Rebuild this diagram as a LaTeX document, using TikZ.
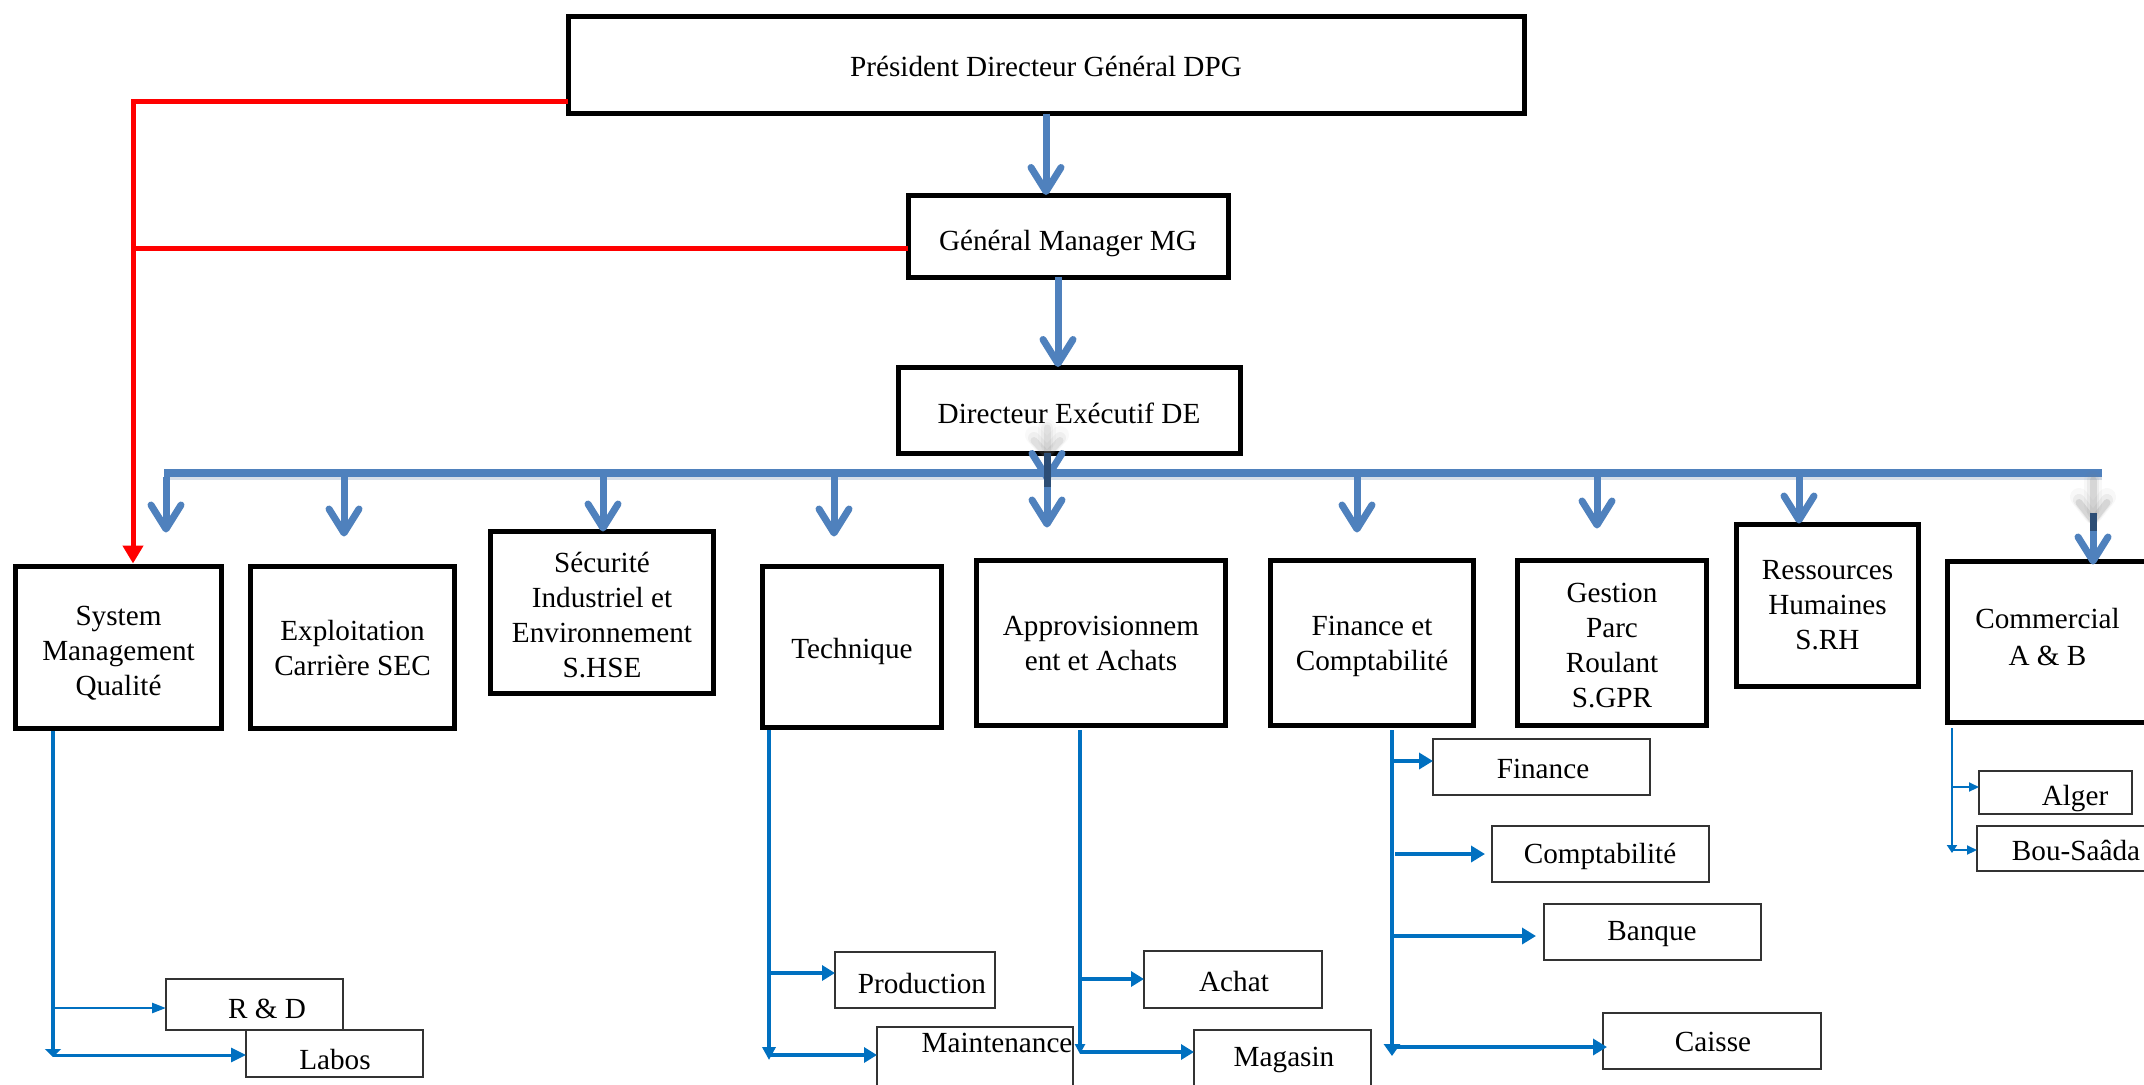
\documentclass[tikz,border=0pt]{standalone}
\usepackage{fontspec}
\setmainfont{Liberation Serif}
\usetikzlibrary{arrows.meta}
\definecolor{barblue}{HTML}{4F81BD}
\definecolor{subblue}{HTML}{0070C0}
\definecolor{navyblue}{HTML}{2C4D75}

% unit box (thick frame) with its label, label nudged down by #6
\newcommand{\orgbox}[7]{%
  \node[mainbox,minimum width=#4pt,minimum height=#5pt] (#1) at (#2,#3) {};
  \node[align=center,inner sep=0pt] (#1-t) at ([yshift=-#6pt]#1.center) {#7};}
% sub-unit box (thin frame) with its label placed separately
\newcommand{\orgsub}[8]{%
  \node[subbox,minimum width=#4pt,minimum height=#5pt] (#1) at (#2,#3) {};
  \node (#1-t) at (#6,#7) {#8};}

\begin{document}
\begin{tikzpicture}[x=0.5pt,y=-0.5pt,
  font=\fontsize{14.6}{17.5}\selectfont,
  mainbox/.style={draw,line width=2.5pt,inner sep=0pt,outer sep=0pt},
  subbox/.style={draw=black!80,line width=0.8pt,inner sep=0pt,outer sep=0pt},
  bigarrow/.style={draw=barblue,line width=3.5pt,-{Straight Barb[length=12pt,width=15pt,round]}},
  haze/.style={draw=gray,line cap=round},
  redline/.style={draw=red,line width=2.5pt},
  trunk/.style={draw=subblue,line width=2pt},
  branch/.style={draw=subblue,line width=2.2pt,-{Triangle[length=6.5pt,width=7.5pt]}},
]
\useasboundingbox (0,0) rectangle (2144,1084);

% ---- top of the hierarchy
\orgbox{pdg}{1046}{65}{478}{48.5}{0.75}{Président Directeur Général DPG}
\orgbox{mg}{1068}{236}{160}{41}{3.5}{Général Manager MG}
\orgbox{de}{1069}{410}{171}{43}{1.5}{Directeur Exécutif DE}

% ---- departments
\orgbox{smq}{118.5}{647.5}{103}{81}{2.75}{System\\Management\\Qualité}
\orgbox{ecs}{352.5}{647.5}{102}{81}{0}{Exploitation\\Carrière SEC}
\orgbox{sie}{602}{612.5}{111.5}{81}{1.25}{Sécurité\\Industriel et\\Environnement\\S.HSE}
\orgbox{tech}{852}{647}{89.5}{80.5}{2}{Technique}
\orgbox{appro}{1101}{643}{124.5}{82.5}{0}{Approvisionnem\\ent et Achats}
\orgbox{fin}{1372}{643}{101.5}{82.5}{1.75}{Finance et\\Comptabilité}
\orgbox{gpr}{1612}{643}{94.5}{82.5}{1.5}{Gestion\\Parc\\Roulant\\S.GPR}
\orgbox{rh}{1827.5}{605.5}{91}{81}{0}{Ressources\\Humaines\\S.RH}
\orgbox{com}{2047.5}{642}{100}{80.5}{-2.5}{Commercial\\[1pt]A \& B}

% ---- sub-units
\orgsub{rd}{254.5}{1004.5}{88.5}{25.5}{267}{1009}{R \& D}
\orgsub{labos}{334.5}{1053.5}{88.5}{23.5}{335}{1059}{Labos}
\orgsub{prod}{915}{980}{80}{28}{922}{983}{Production}
\orgsub{maint}{975}{1061}{98}{34}{997}{1043}{Maintenance}
\orgsub{achat}{1233}{979.5}{89}{28.5}{1234}{981}{Achat}
\orgsub{mag}{1282.5}{1062.5}{88.5}{32.5}{1284}{1060}{Magasin}
\orgsub{finance}{1541.5}{767}{108.5}{28}{1543}{769}{Finance}
\orgsub{compta}{1600.5}{854}{108.5}{28}{1600}{856}{Comptabilité}
\orgsub{banque}{1652.5}{932}{108.5}{28}{1652}{934}{Banque}
\orgsub{caisse}{1712}{1041}{109}{28}{1713}{1042}{Caisse}
\orgsub{alger}{2055.5}{792.5}{76.5}{21.5}{2075}{799}{Alger}
\orgsub{bou}{2073.5}{848.5}{96.5}{22.5}{2076}{850}{Bou-Saâda}

% ---- red staff links to quality management
\coordinate (rv) at (133,101);
\coordinate (rm) at (133,248);
\draw[redline,-{Triangle[length=9pt,width=10pt]},shorten >=1.5pt] (pdg.west |- rv) -- (rv) -- (rv |- smq.north);
\draw[redline] (mg.west |- rm) -- (rm);

% ---- line of command
\draw[bigarrow] (pdg.south) -- (pdg.south |- mg.north);
\coordinate (mgx) at (1058,0);
\draw[bigarrow] (mg.south -| mgx) -- (de.north -| mgx);

% distribution bar
\coordinate (barL) at (164,473);
\coordinate (barR) at (2102,473);
\draw[barblue!60!gray,line width=4pt,opacity=.25] ([yshift=-1.5pt]barL) -- ([yshift=-1.5pt]barR);
\draw[barblue,line width=4pt] (barL) -- (barR);

\foreach \n/\x/\b/\g in {1/166/smq/17,2/344/ecs/15,3/603/sie/0,4/834/tech/15,6/1357/fin/14,7/1597/gpr/16,8/1799/rh/0.5} {
  \coordinate (tap\n) at (\x,477);
  \draw[bigarrow,shorten >=\g pt] (tap\n) -- (tap\n |- \b.north);
}

% arrow from the executive director through the bar
\coordinate (tap5) at (1047,477);
\coordinate (dh1) at (1047,428);
\coordinate (dh2) at (1047,458);
\foreach \w/\o in {9/0.05,6/0.08,3.5/0.14}
  \draw[haze,line width=\w pt,opacity=\o,-{Straight Barb[length=7pt,width=13pt,round]}] (dh1) -- (dh2);
\draw[bigarrow] (de.south -| tap5) -- ([yshift=-2pt]tap5);
\draw[bigarrow,shorten >=16.5pt] (de.south -| tap5) -- (tap5 |- appro.north);
\draw[navyblue,line width=3.5pt] (de.south -| tap5) -- ++(0,34);

% arrow to the commercial department
\coordinate (tap9) at (2093,477);
\coordinate (ch1) at (2093,480);
\coordinate (ch2) at (2093,524);
\coordinate (cs) at (2093,513);
\foreach \w/\o in {9/0.06,6/0.1,3.5/0.2}
  \draw[haze,line width=\w pt,opacity=\o,-{Straight Barb[length=9pt,width=14pt,round]}] (ch1) -- (ch2);
\draw[bigarrow,shorten >=-1.5pt] (cs) -- (tap9 |- com.north);
\draw[navyblue,line width=3.5pt] (cs) -- ++(0,18);

% ---- System Management Qualité branch
\coordinate (q0) at (53,731);
\coordinate (q9) at (53,1057);
\coordinate (q1) at (53,1008);
\coordinate (q2) at (53,1055);
\draw[trunk,line width=2.2pt,-{Triangle[length=4pt,width=8pt]}] (q0) -- (q9);
\draw[branch,line width=1.3pt,-{Triangle[length=7pt,width=5pt]}] (q1) -- (q1 -| rd.west);
\draw[branch,line width=1.5pt,-{Triangle[length=7.5pt,width=7pt]}] (q2) -- (q2 -| labos.west);

% ---- Technique branch
\coordinate (t0) at (769,730);
\coordinate (t9) at (769,1060);
\coordinate (t1) at (769,973);
\coordinate (t2) at (769,1055);
\draw[trunk,-{Triangle[length=6.5pt,width=6.5pt]}] (t0) -- (t9);
\draw[branch] (t1) -- (t1 -| prod.west);
\draw[branch] (t2) -- (t2 -| maint.west);

% ---- Approvisionnement branch
\coordinate (p0) at (1080,730);
\coordinate (p9) at (1080,1054);
\coordinate (p1) at (1080,979);
\coordinate (p2) at (1080,1052);
\draw[trunk,line width=1.8pt,-{Triangle[length=5pt,width=5pt]}] (p0) -- (p9);
\draw[branch] (p1) -- (p1 -| achat.west);
\draw[branch] (p2) -- (p2 -| mag.west);

% ---- Finance et Comptabilité branch
\coordinate (f0) at (1392,730);
\coordinate (f9) at (1392,1056);
\coordinate (f1) at (1392,761);
\coordinate (f2) at (1395,854);
\coordinate (f3) at (1392,936);
\coordinate (f4) at (1395,1047);
\draw[trunk,line width=1.8pt,-{Triangle[length=6pt,width=8pt]}] (f0) -- (f9);
\draw[branch,line width=2pt,-{Triangle[length=7pt,width=8pt]}] (f1) -- (f1 -| finance.west);
\draw[branch,line width=2pt,-{Triangle[length=7pt,width=8pt]},shorten >=3.5pt] (f2) -- (f2 -| compta.west);
\draw[branch,line width=2pt,-{Triangle[length=7pt,width=8pt]},shorten >=4pt] (f3) -- (f3 -| banque.west);
\draw[branch,line width=2pt,-{Triangle[length=7pt,width=8pt]},shorten >=-2pt] (f4) -- (f4 -| caisse.west);

% ---- Commercial branch
\coordinate (c0) at (1952,728);
\coordinate (c9) at (1952,853);
\coordinate (c1) at (1952,787);
\coordinate (c2) at (1952,850);
\draw[trunk,line width=1.3pt,-{Triangle[length=4pt,width=5pt]}] (c0) -- (c9);
\draw[branch,line width=1pt,-{Triangle[length=5pt,width=4.5pt]}] (c1) -- (c1 -| alger.west);
\draw[branch,line width=1pt,-{Triangle[length=5pt,width=4.5pt]}] (c2) -- (c2 -| bou.west);
\end{tikzpicture}
\end{document}
